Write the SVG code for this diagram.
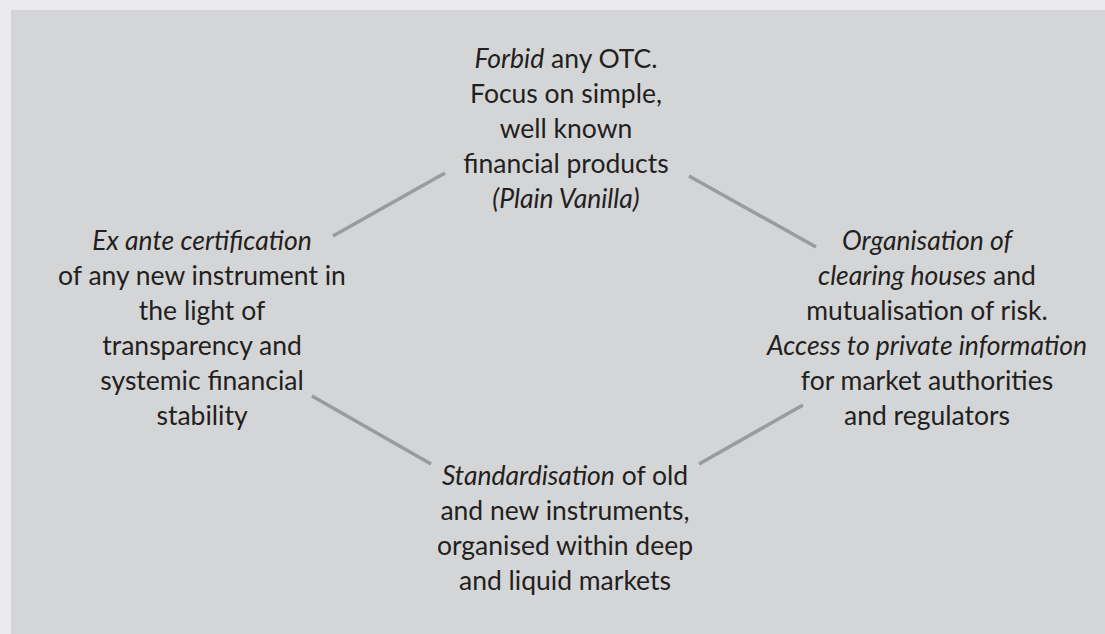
<svg xmlns="http://www.w3.org/2000/svg" width="1105" height="634" viewBox="0 0 1105 634">
<style>
.t{font-family:Lato,"Open Sans",sans-serif;font-size:26.5px;fill:#231f20;text-anchor:middle}
.i{font-style:italic}
.c{stroke:#9a9b9d;stroke-width:3.5;fill:none}
</style>
<rect x="0" y="0" width="1105" height="634" fill="#ebebed"/>
<rect x="11" y="10" width="1094" height="624" fill="#d4d5d7"/>
<g id="connectors">
<line class="c" x1="333" y1="236" x2="445" y2="173"/>
<line class="c" x1="689" y1="176" x2="816" y2="247"/>
<line class="c" x1="312" y1="396" x2="431" y2="464"/>
<line class="c" x1="699" y1="464" x2="803" y2="405"/>
</g>
<g id="top">
<text class="t" x="566" y="68"><tspan class="i">Forbid</tspan> any OTC.</text>
<text class="t" x="566" y="103">Focus on simple,</text>
<text class="t" x="566" y="138">well known</text>
<text class="t" x="566" y="173">financial products</text>
<text class="t i" x="566" y="208">(Plain Vanilla)</text>
</g>
<g id="left">
<text class="t i" x="202" y="250">Ex ante certification</text>
<text class="t" x="202" y="285">of any new instrument in</text>
<text class="t" x="202" y="320">the light of</text>
<text class="t" x="202" y="355">transparency and</text>
<text class="t" x="202" y="390">systemic financial</text>
<text class="t" x="202" y="425">stability</text>
</g>
<g id="right">
<text class="t i" x="927" y="250">Organisation of</text>
<text class="t" x="927" y="285"><tspan class="i">clearing houses</tspan> and</text>
<text class="t" x="927" y="320">mutualisation of risk.</text>
<text class="t i" x="927" y="355">Access to private information</text>
<text class="t" x="927" y="390">for market authorities</text>
<text class="t" x="927" y="425">and regulators</text>
</g>
<g id="bottom">
<text class="t" x="565" y="485"><tspan class="i">Standardisation</tspan> of old</text>
<text class="t" x="565" y="520">and new instruments,</text>
<text class="t" x="565" y="555">organised within deep</text>
<text class="t" x="565" y="590">and liquid markets</text>
</g>
</svg>
